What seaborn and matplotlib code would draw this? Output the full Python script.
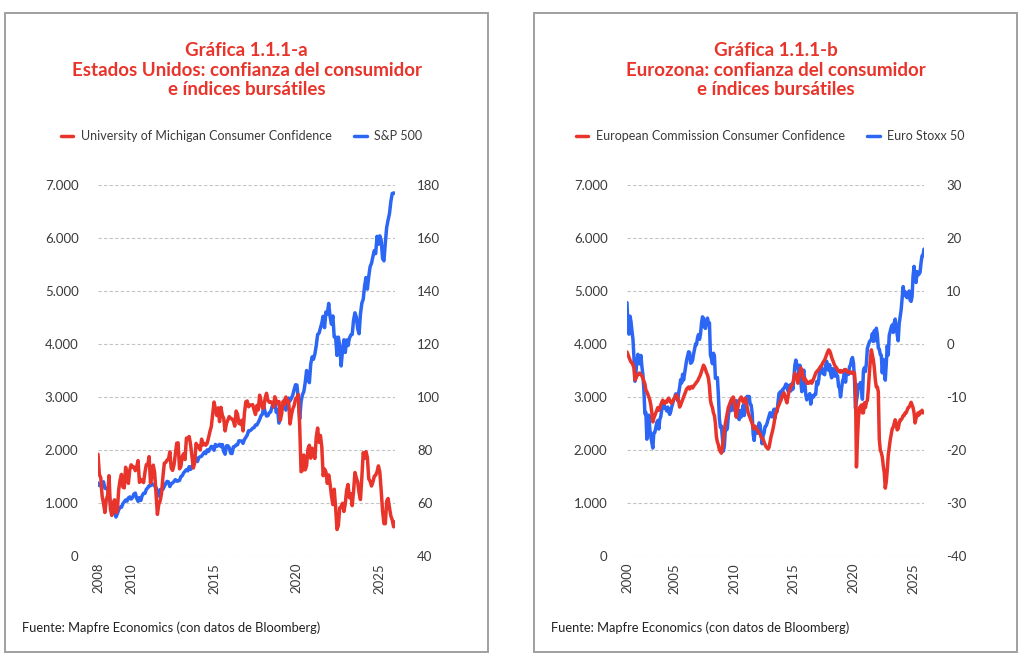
import numpy as np
import pandas as pd
import matplotlib
matplotlib.use("Agg")
import matplotlib.pyplot as plt
from matplotlib.patches import Rectangle
from matplotlib.lines import Line2D
import seaborn as sns

# ===== Données (mensuelles) =====
# Etats-Unis : janv. 2008 -> déc. 2025
us_start = "2008-01"
michigan = [
    78.4, 70.8, 69.5, 62.6, 59.8, 56.4, 61.2, 63.0, 70.3, 57.6, 55.3, 60.1,
    61.2, 56.3, 57.3, 65.1, 68.7, 70.8, 66.0, 65.7, 73.5, 70.6, 67.4, 72.5,
    74.4, 73.6, 73.6, 72.2, 73.6, 76.0, 67.8, 68.9, 68.2, 67.7, 71.6, 74.5,
    74.2, 77.5, 67.5, 69.8, 74.3, 71.5, 63.7, 55.7, 59.5, 60.8, 63.7, 69.9,
    75.0, 75.3, 76.2, 76.4, 79.3, 73.2, 72.3, 74.3, 78.3, 82.6, 82.7, 72.9,
    73.8, 77.6, 78.6, 76.4, 84.5, 84.1, 85.1, 82.1, 77.5, 73.2, 75.1, 82.5,
    81.2, 81.6, 80.0, 84.1, 81.9, 82.5, 81.8, 82.5, 84.6, 86.9, 88.8, 93.6,
    98.1, 95.4, 93.0, 95.9, 90.7, 96.1, 93.1, 91.9, 87.2, 90.0, 91.3, 92.6,
    92.0, 91.7, 91.0, 89.0, 94.7, 93.5, 90.0, 89.8, 91.2, 87.2, 93.8, 98.2,
    98.5, 96.3, 96.9, 97.0, 97.1, 95.1, 93.4, 96.8, 95.1, 100.7, 98.5, 95.9,
    95.7, 99.7, 101.4, 98.8, 98.0, 98.2, 97.9, 96.2, 100.1, 98.6, 97.5, 98.3,
    91.2, 93.8, 98.4, 97.2, 100.0, 98.2, 98.4, 89.8, 93.2, 95.5, 96.8, 99.3,
    99.8, 101.0, 89.1, 71.8, 72.3, 78.1, 72.5, 74.1, 80.4, 81.8, 76.9, 80.7,
    79.0, 76.8, 84.9, 88.3, 82.9, 85.5, 81.2, 70.3, 72.8, 71.7, 67.4, 70.6,
    67.2, 62.8, 59.4, 65.2, 58.4, 50.0, 51.5, 58.2, 58.6, 59.9, 56.8, 59.7,
    64.9, 67.0, 62.0, 63.5, 59.0, 64.4, 71.5, 69.5, 67.9, 63.8, 61.3, 69.7,
    79.0, 76.9, 79.4, 77.2, 69.1, 68.2, 66.4, 67.9, 70.1, 70.5, 71.8, 74.0,
    71.7, 64.7, 57.0, 52.2, 52.2, 60.7, 61.7, 58.2, 55.1, 53.6, 51.0, 52.9,
]
sp500 = [
    1378, 1330, 1322, 1385, 1400, 1280, 1267, 1283, 1166, 969, 896, 903,
    826, 735, 798, 873, 919, 919, 987, 1021, 1057, 1036, 1096, 1115,
    1074, 1104, 1169, 1187, 1089, 1031, 1102, 1049, 1141, 1183, 1181, 1258,
    1286, 1327, 1326, 1364, 1345, 1321, 1292, 1219, 1131, 1253, 1247, 1258,
    1312, 1366, 1408, 1398, 1310, 1362, 1379, 1407, 1441, 1412, 1416, 1426,
    1498, 1515, 1569, 1598, 1631, 1606, 1686, 1633, 1682, 1757, 1806, 1848,
    1783, 1859, 1872, 1884, 1924, 1960, 1931, 2003, 1972, 2018, 2068, 2059,
    1995, 2105, 2068, 2086, 2107, 2063, 2104, 1972, 1920, 2079, 2080, 2044,
    1940, 1932, 2060, 2065, 2097, 2099, 2174, 2171, 2168, 2126, 2199, 2239,
    2279, 2364, 2363, 2384, 2412, 2423, 2470, 2472, 2519, 2575, 2648, 2674,
    2824, 2714, 2641, 2648, 2705, 2718, 2816, 2902, 2914, 2712, 2760, 2507,
    2704, 2784, 2834, 2946, 2752, 2942, 2980, 2926, 2977, 3038, 3141, 3231,
    3226, 2954, 2585, 2912, 3044, 3100, 3271, 3500, 3363, 3270, 3622, 3756,
    3714, 3811, 3973, 4181, 4204, 4298, 4395, 4523, 4308, 4605, 4567, 4766,
    4516, 4374, 4530, 4132, 4132, 3785, 4130, 3955, 3586, 3872, 4080, 3840,
    4077, 3970, 4109, 4169, 4180, 4450, 4589, 4508, 4288, 4194, 4568, 4770,
    4846, 5096, 5254, 5036, 5278, 5460, 5522, 5648, 5762, 5705, 6032, 5882,
    6041, 5955, 5612, 5569, 5912, 6205, 6339, 6460, 6688, 6840, 6849, 6845,
]

# Eurozona : janv. 2001 -> déc. 2025
eu_start = "2001-01"
ec_conf = [
    -1.5, -2.0, -2.5, -3.0, -3.4, -3.5, -4.0, -4.5, -6.8, -6.5, -6.0, -5.8,
    -5.5, -5.5, -5.8, -6.0, -6.5, -7.0, -7.5, -8.7, -9.0, -9.5, -10.0, -10.6,
    -11.5, -13.0, -14.7, -14.0, -13.5, -13.0, -12.5, -12.0, -12.5, -12.0, -11.5, -11.0,
    -10.6, -11.0, -11.2, -10.8, -11.0, -10.5, -10.2, -10.6, -11.0, -11.2, -10.8, -10.5,
    -10.2, -9.8, -9.6, -10.2, -10.8, -11.9, -11.5, -11.0, -10.5, -10.0, -9.5, -9.0,
    -8.5, -8.3, -8.1, -8.5, -8.2, -8.0, -8.3, -8.0, -7.7, -7.5, -7.2, -7.0,
    -6.6, -6.2, -5.8, -5.2, -4.6, -4.0, -4.3, -4.8, -5.4, -5.8, -6.5, -8.0,
    -10.6, -11.5, -12.0, -13.0, -13.5, -15.0, -17.5, -18.5, -19.0, -20.0, -20.3, -20.6,
    -19.5, -18.0, -16.2, -15.0, -14.0, -13.0, -12.0, -11.5, -11.0, -10.5, -10.2, -10.0,
    -11.0, -12.5, -13.8, -12.5, -11.5, -10.6, -10.3, -10.0, -10.5, -11.0, -10.8, -10.2,
    -11.0, -12.0, -13.0, -13.5, -14.0, -14.5, -15.0, -15.7, -16.0, -15.5, -16.0, -16.2,
    -16.5, -16.8, -17.0, -17.5, -17.8, -18.0, -18.5, -19.0, -19.4, -19.6, -19.8, -19.5,
    -18.5, -17.5, -16.8, -16.0, -15.0, -13.8, -13.0, -12.5, -11.9, -11.5, -11.0, -10.6,
    -10.0, -9.5, -9.2, -9.8, -10.5, -11.1, -10.0, -9.0, -8.5, -8.0, -7.8, -7.4,
    -6.5, -5.5, -5.8, -6.5, -7.4, -6.5, -5.5, -4.5, -5.0, -6.0, -6.8, -6.5,
    -6.8, -7.4, -7.2, -7.4, -7.2, -7.0, -7.4, -7.0, -6.5, -6.0, -5.5, -5.2,
    -5.0, -4.8, -4.5, -4.2, -4.0, -3.6, -3.3, -3.0, -2.5, -2.0, -1.5, -1.1,
    -1.3, -1.8, -2.5, -3.0, -3.5, -4.0, -4.3, -4.5, -4.9, -5.0, -5.3, -5.0,
    -5.3, -5.2, -5.0, -4.9, -4.8, -5.0, -5.3, -5.2, -5.4, -5.5, -5.3, -5.5,
    -5.3, -5.5, -8.0, -23.2, -18.0, -14.0, -12.0, -11.9, -11.5, -13.0, -13.0, -11.1,
    -12.0, -11.0, -10.6, -8.5, -5.5, -3.0, -1.1, -2.0, -3.0, -4.5, -6.8, -8.1,
    -8.1, -9.0, -18.0, -20.0, -20.5, -21.3, -23.0, -24.3, -27.2, -26.0, -23.8, -21.0,
    -19.5, -18.1, -17.0, -16.0, -15.7, -15.0, -14.3, -15.0, -16.2, -16.0, -15.0, -14.3,
    -14.3, -14.0, -13.5, -13.5, -13.0, -13.0, -12.5, -12.0, -11.9, -11.5, -11.0, -11.5,
    -12.0, -13.0, -14.9, -14.0, -13.5, -13.0, -13.4, -12.8, -13.0, -12.5, -13.0, -12.8,
]
stoxx50 = [
    4780, 4319, 4185, 4526, 4426, 4243, 4091, 3744, 3297, 3479, 3658, 3806,
    3670, 3624, 3784, 3574, 3425, 3133, 2685, 2710, 2204, 2518, 2657, 2386,
    2248, 2140, 2036, 2325, 2331, 2419, 2519, 2557, 2395, 2575, 2631, 2761,
    2839, 2893, 2787, 2788, 2737, 2811, 2720, 2671, 2726, 2811, 2876, 2951,
    2985, 3058, 3056, 2930, 3077, 3182, 3327, 3263, 3429, 3321, 3447, 3579,
    3692, 3775, 3854, 3839, 3637, 3649, 3692, 3808, 3899, 4004, 3988, 4120,
    4178, 4088, 4182, 4393, 4512, 4489, 4316, 4294, 4381, 4489, 4398, 4400,
    3792, 3724, 3628, 3826, 3777, 3352, 3367, 3366, 3038, 2592, 2430, 2451,
    2237, 1977, 2071, 2375, 2376, 2401, 2639, 2775, 2873, 2743, 2797, 2966,
    2776, 2728, 2931, 2817, 2610, 2574, 2742, 2623, 2748, 2844, 2650, 2793,
    2954, 3013, 2911, 3011, 2861, 2849, 2700, 2303, 2180, 2385, 2330, 2317,
    2416, 2512, 2477, 2306, 2118, 2265, 2325, 2440, 2454, 2503, 2575, 2636,
    2703, 2633, 2625, 2712, 2770, 2603, 2768, 2721, 2893, 3068, 3087, 3109,
    3013, 3150, 3162, 3198, 3245, 3229, 3116, 3172, 3226, 3114, 3250, 3146,
    3351, 3599, 3697, 3616, 3571, 3425, 3600, 3270, 3101, 3418, 3506, 3268,
    3045, 2946, 3005, 3028, 3063, 2865, 2991, 3023, 3002, 3055, 3052, 3291,
    3231, 3320, 3501, 3560, 3555, 3442, 3450, 3421, 3595, 3674, 3570, 3504,
    3609, 3439, 3362, 3536, 3407, 3396, 3525, 3393, 3399, 3198, 3173, 3001,
    3159, 3298, 3352, 3515, 3280, 3474, 3467, 3427, 3569, 3604, 3704, 3745,
    3641, 3330, 2787, 2928, 3050, 3234, 3174, 3273, 3194, 2958, 3493, 3553,
    3481, 3636, 3919, 3975, 4039, 4064, 4089, 4196, 4048, 4251, 4063, 4298,
    4175, 3924, 3903, 3803, 3789, 3455, 3708, 3517, 3318, 3618, 3965, 3794,
    4163, 4238, 4315, 4359, 4218, 4399, 4471, 4297, 4175, 4061, 4382, 4521,
    4648, 4878, 5083, 4921, 4984, 4894, 4873, 4958, 5000, 4827, 4804, 4896,
    5286, 5464, 5248, 5160, 5367, 5303, 5320, 5351, 5530, 5662, 5668, 5790,
]

# Axes / étiquettes
left_ticks = [0, 1000, 2000, 3000, 4000, 5000, 6000, 7000]
left_labels = ["0", "1.000", "2.000", "3.000", "4.000", "5.000", "6.000", "7.000"]
us_right_ticks = [40, 60, 80, 100, 120, 140, 160, 180]
eu_right_ticks = [-40, -30, -20, -10, 0, 10, 20, 30]
us_years = [2008, 2010, 2015, 2020, 2025]
eu_years = [2000, 2005, 2010, 2015, 2020, 2025]

titles = ["Gráfica 1.1.1-a\nEstados Unidos: confianza del consumidor\ne índices bursátiles",
          "Gráfica 1.1.1-b\nEurozona: confianza del consumidor\ne índices bursátiles"]
legend_labels = [["University of Michigan Consumer Confidence", "S&P 500"],
                 ["European Commission Consumer Confidence", "Euro Stoxx 50"]]
source = "Fuente: Mapfre Economics (con datos de Bloomberg)"

RED = "#E8342B"
BLUE = "#2C66F5"
TXT = "#3a3a3a"

sns.set_style("white")
plt.rcParams["font.family"] = ["Lato", "DejaVu Sans"]

W, H = 1024, 657
fig = plt.figure(figsize=(W / 100, H / 100), dpi=100)


def decimal_years(start, n):
    d = pd.date_range(start, periods=n, freq="MS")
    return d.year + (d.month - 1) / 12.0


def panel(x0, conf, stock, start, right_ticks, years, title, labels, box_x):
    # cadre
    fig.patches.append(Rectangle((box_x / W, 1 - 652 / H), 483 / W, 639 / H,
                                 transform=fig.transFigure, fill=False,
                                 edgecolor="#a0a0a0", lw=1.4))
    cx = (box_x + 241.5) / W
    fig.text(cx, 1 - 70 / H, title, ha="center", va="center", color=RED,
             fontsize=13.5, fontweight="bold", linespacing=1.17)

    ax = fig.add_axes([x0 / W, 1 - 556 / H, 297 / W, 371 / H])
    t = decimal_years(start, len(stock))
    df = pd.DataFrame({"t": t, "stock": stock, "conf": conf})

    sns.lineplot(data=df, x="t", y="stock", ax=ax, color=BLUE, lw=2.5, legend=False)
    ax.set_ylim(0, 7000)
    ax.set_yticks(left_ticks)
    ax.set_yticklabels(left_labels)
    ax.set_xlim(t[0], t[-1])
    xt = [max(y, t[0]) for y in years]
    ax.set_xticks(xt)
    ax.set_xticklabels([str(y) for y in years], rotation=90)
    ax.yaxis.grid(True, ls=(0, (3, 2)), color="#c4c4c4", lw=0.8)
    ax.xaxis.grid(False)
    ax.set_xlabel("")
    ax.set_ylabel("")
    ax.tick_params(axis="y", length=0, pad=14, labelsize=9.5, labelcolor=TXT)
    ax.tick_params(axis="x", length=0, pad=5, labelsize=9.5, labelcolor=TXT)

    ax2 = ax.twinx()
    sns.lineplot(data=df, x="t", y="conf", ax=ax2, color=RED, lw=2.5, legend=False)
    ax2.set_ylim(right_ticks[0], right_ticks[-1])
    ax2.set_yticks(right_ticks)
    ax2.set_yticklabels([str(v) for v in right_ticks])
    ax2.set_ylabel("")
    ax2.tick_params(axis="y", length=0, pad=16, labelsize=9.5, labelcolor=TXT)
    for a in (ax, ax2):
        for s in a.spines.values():
            s.set_visible(False)

    handles = [Line2D([], [], color=RED, lw=2.5), Line2D([], [], color=BLUE, lw=2.5)]
    fig.legend(handles, labels, loc="center", bbox_to_anchor=(cx - 0.005, 1 - 136 / H),
               ncol=2, frameon=False, fontsize=9, handlelength=1.0,
               handletextpad=0.6, columnspacing=1.8, labelcolor=TXT)

    fig.text((box_x + 17) / W, 1 - 628 / H, source, ha="left", va="center",
             fontsize=9.3, color="#222222")


panel(98, michigan, sp500, us_start, us_right_ticks, us_years, titles[0], legend_labels[0], 5)
panel(627, ec_conf, stoxx50, eu_start, eu_right_ticks, eu_years, titles[1], legend_labels[1], 534)

fig.savefig("out.png", dpi=100)
